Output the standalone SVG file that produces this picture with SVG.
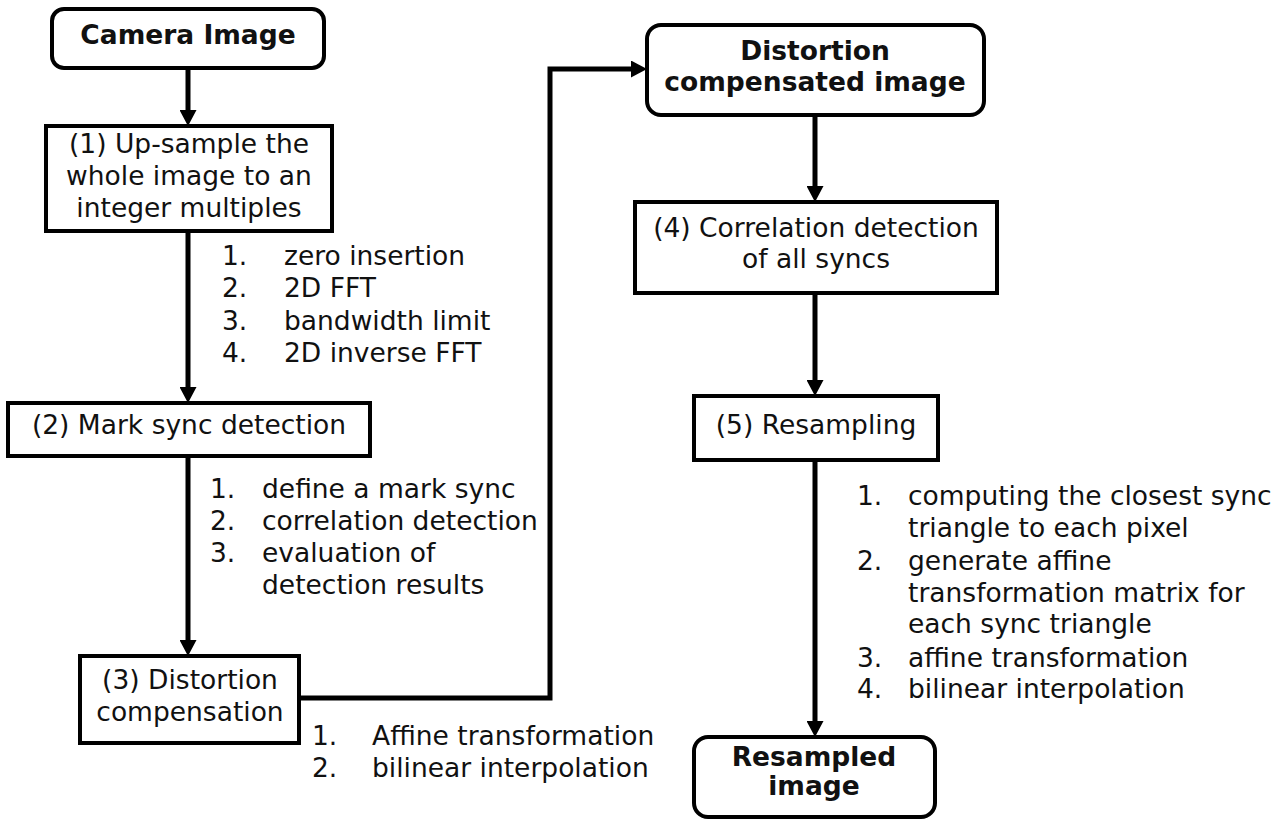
<svg xmlns="http://www.w3.org/2000/svg" width="1278" height="820" viewBox="0 0 1278 820">
<style>
.box{fill:#fff;stroke:#000;stroke-width:4}
.t{font-family:"DejaVu Sans","Verdana",sans-serif;font-size:26.5px;fill:#111}
.c{text-anchor:middle}
.b{font-weight:bold}
.conn{fill:none;stroke:#000;stroke-width:5}
</style>
<defs>
<marker id="ah" viewBox="0 0 16 17" markerWidth="16" markerHeight="17" markerUnits="userSpaceOnUse" refX="2" refY="8.5" orient="auto">
<path d="M0,0 L16,8.5 L0,17 z" fill="#000"/>
</marker>
</defs>
<rect width="1278" height="820" fill="#fff"/>
<g id="connectors">
<path class="conn" d="M188,68 V112" marker-end="url(#ah)"/>
<path class="conn" d="M188,231 V389" marker-end="url(#ah)"/>
<path class="conn" d="M188,456 V642" marker-end="url(#ah)"/>
<path class="conn" d="M299,698 H550 V69 H633" marker-end="url(#ah)"/>
<path class="conn" d="M815,115 V188" marker-end="url(#ah)"/>
<path class="conn" d="M815,293 V382" marker-end="url(#ah)"/>
<path class="conn" d="M815,460 V723" marker-end="url(#ah)"/>
</g>
<g id="camera">
<rect class="box" x="52" y="9" width="272" height="59" rx="12"/>
<text class="t c b" x="188" y="44">Camera Image</text>
</g>
<g id="step1">
<rect class="box" x="46" y="126" width="286" height="105"/>
<text class="t c" x="189" y="153">(1) Up-sample the</text>
<text class="t c" x="189" y="185">whole image to an</text>
<text class="t c" x="189" y="217">integer multiples</text>
</g>
<g id="list1">
<text class="t" x="222" y="265">1.</text><text class="t" x="284" y="265">zero insertion</text>
<text class="t" x="222" y="297">2.</text><text class="t" x="284" y="297">2D FFT</text>
<text class="t" x="222" y="330">3.</text><text class="t" x="284" y="330">bandwidth limit</text>
<text class="t" x="222" y="362">4.</text><text class="t" x="284" y="362">2D inverse FFT</text>
</g>
<g id="step2">
<rect class="box" x="8" y="403" width="362" height="53"/>
<text class="t c" x="189" y="434">(2) Mark sync detection</text>
</g>
<g id="list2">
<text class="t" x="210" y="498">1.</text><text class="t" x="262" y="498">define a mark sync</text>
<text class="t" x="210" y="530">2.</text><text class="t" x="262" y="530">correlation detection</text>
<text class="t" x="210" y="562">3.</text><text class="t" x="262" y="562">evaluation of</text>
<text class="t" x="262" y="594">detection results</text>
</g>
<g id="step3">
<rect class="box" x="80" y="656" width="219" height="87"/>
<text class="t c" x="190" y="689">(3) Distortion</text>
<text class="t c" x="190" y="721">compensation</text>
</g>
<g id="list3">
<text class="t" x="312" y="745">1.</text><text class="t" x="372" y="745">Affine transformation</text>
<text class="t" x="312" y="777">2.</text><text class="t" x="372" y="777">bilinear interpolation</text>
</g>
<g id="distorted">
<rect class="box" x="647" y="25" width="337" height="90" rx="14"/>
<text class="t c b" x="815" y="60">Distortion</text>
<text class="t c b" x="815" y="91">compensated image</text>
</g>
<g id="step4">
<rect class="box" x="635" y="202" width="362" height="91"/>
<text class="t c" x="816" y="237">(4) Correlation detection</text>
<text class="t c" x="816" y="268">of all syncs</text>
</g>
<g id="step5">
<rect class="box" x="694" y="396" width="244" height="64"/>
<text class="t c" x="816" y="434">(5) Resampling</text>
</g>
<g id="list5">
<text class="t" x="857" y="505">1.</text><text class="t" x="908" y="505">computing the closest sync</text>
<text class="t" x="908" y="537">triangle to each pixel</text>
<text class="t" x="857" y="570">2.</text><text class="t" x="908" y="570">generate affine</text>
<text class="t" x="908" y="602">transformation matrix for</text>
<text class="t" x="908" y="633">each sync triangle</text>
<text class="t" x="857" y="667">3.</text><text class="t" x="908" y="667">affine transformation</text>
<text class="t" x="857" y="698">4.</text><text class="t" x="908" y="698">bilinear interpolation</text>
</g>
<g id="resampled">
<rect class="box" x="694" y="737" width="241" height="80" rx="14"/>
<text class="t c b" x="814" y="766">Resampled</text>
<text class="t c b" x="814" y="795">image</text>
</g>
</svg>
